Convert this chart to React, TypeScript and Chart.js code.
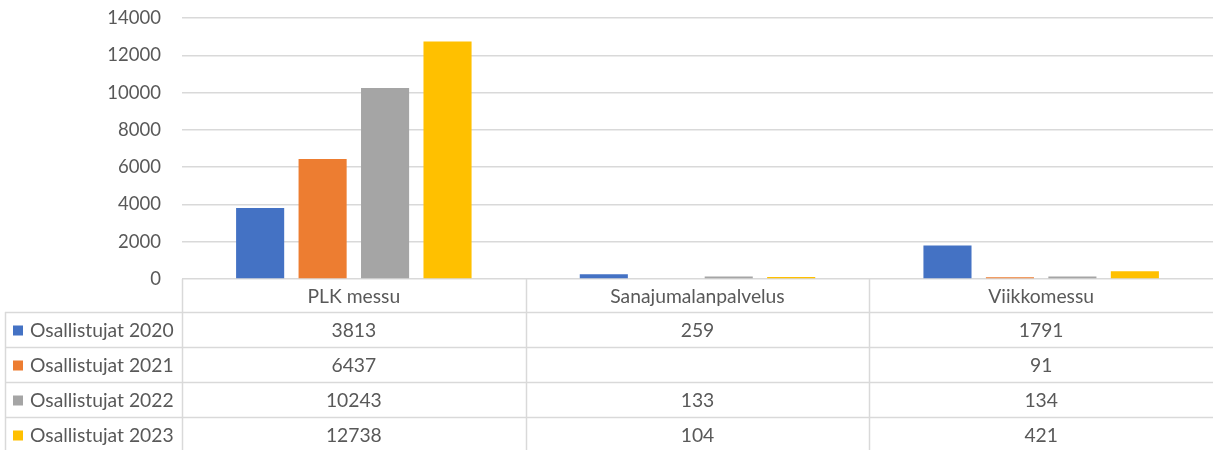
import React, { useEffect, useRef } from "react";
import { Chart, registerables } from "chart.js";

Chart.register(...registerables);

const categories = ["PLK messu", "Sanajumalanpalvelus", "Viikkomessu"];
const seriesNames = ["Osallistujat 2020", "Osallistujat 2021", "Osallistujat 2022", "Osallistujat 2023"];
const values2020: (number | null)[] = [3813, 259, 1791];
const values2021: (number | null)[] = [6437, null, 91];
const values2022: (number | null)[] = [10243, 133, 134];
const values2023: (number | null)[] = [12738, 104, 421];
const colors = ["#4472C4", "#ED7D31", "#A5A5A5", "#FFC000"];
const yTicks = [0, 2000, 4000, 6000, 8000, 10000, 12000, 14000];

const FONT = "Lato";
const TICK_SIZE = 18.5;
const TABLE_SIZE = 19.3;
const TEXT = "#595959";
const LINE = "#d9d9d9";

const allSeries = [values2020, values2021, values2022, values2023];

const tablePlugin = {
  id: "dataTable",
  afterDraw(chart: any) {
    const ctx = chart.ctx as CanvasRenderingContext2D;
    const x = chart.scales.x;
    const area = chart.chartArea;
    const n = categories.length;
    const left = area.left;
    const right = area.right;
    const colW = (right - left) / n;
    const top = area.bottom;
    const headerH = 33;
    const rowH = 35;
    const tableLeft = 5;
    const bottom = chart.height + 2;
    ctx.save();
    ctx.strokeStyle = LINE;
    ctx.lineWidth = 1.5;
    for (let i = 0; i < n; i++) {
      const xx = Math.round(left + i * colW) + 0.5;
      ctx.beginPath();
      ctx.moveTo(xx, top);
      ctx.lineTo(xx, bottom);
      ctx.stroke();
    }
    ctx.beginPath();
    ctx.moveTo(tableLeft + 0.5, top + headerH);
    ctx.lineTo(tableLeft + 0.5, bottom);
    ctx.stroke();
    for (let r = 0; r < seriesNames.length; r++) {
      const yy = Math.round(top + headerH + r * rowH) + 0.5;
      ctx.beginPath();
      ctx.moveTo(tableLeft, yy);
      ctx.lineTo(right, yy);
      ctx.stroke();
    }
    ctx.fillStyle = TEXT;
    ctx.font = `${TABLE_SIZE}px ${FONT}`;
    ctx.textAlign = "center";
    ctx.textBaseline = "middle";
    categories.forEach((c, i) => {
      ctx.fillText(c, x.getPixelForValue(i), top + headerH / 2 + 1);
    });
    seriesNames.forEach((name, r) => {
      const cy = top + headerH + r * rowH + rowH / 2 + 1;
      ctx.fillStyle = colors[r];
      ctx.fillRect(13, cy - 5, 10, 10);
      ctx.fillStyle = TEXT;
      ctx.textAlign = "left";
      ctx.fillText(name, 30, cy);
      ctx.textAlign = "center";
      allSeries[r].forEach((v, i) => {
        if (v !== null) ctx.fillText(String(v), x.getPixelForValue(i), cy);
      });
    });
    ctx.restore();
  },
};

export default function App() {
  const ref = useRef<HTMLCanvasElement | null>(null);
  useEffect(() => {
    document.body.style.margin = "0";
    const chart = new Chart(ref.current!, {
      type: "bar",
      data: {
        labels: categories,
        datasets: seriesNames.map((name, i) => ({
          label: name,
          data: allSeries[i],
          backgroundColor: colors[i],
          categoryPercentage: 0.727,
          barPercentage: 0.77,
        })),
      },
      options: {
        responsive: false,
        animation: false,
        devicePixelRatio: 1,
        layout: { padding: { top: 18, bottom: 171, left: 0, right: -2 } },
        plugins: { legend: { display: false }, tooltip: { enabled: false } },
        scales: {
          x: { display: false },
          y: {
            min: 0,
            max: 14000,
            afterBuildTicks: (scale: any) => {
              scale.ticks = yTicks.map((v) => ({ value: v }));
            },
            afterFit: (scale: any) => {
              scale.width = 182;
            },
            ticks: {
              color: TEXT,
              font: { family: FONT, size: TICK_SIZE },
              padding: 0,
              callback: (v: any) => String(v),
            },
            grid: {
              color: LINE,
              lineWidth: 1.5,
              drawTicks: true,
              tickLength: 21,
              tickColor: "rgba(0,0,0,0)",
            },
            border: { display: false },
          },
        },
      },
      plugins: [tablePlugin],
    });
    return () => chart.destroy();
  }, []);
  return (
    <div style={{ width: 1213, height: 450 }}>
      <canvas ref={ref} width={1213} height={450} />
    </div>
  );
}
